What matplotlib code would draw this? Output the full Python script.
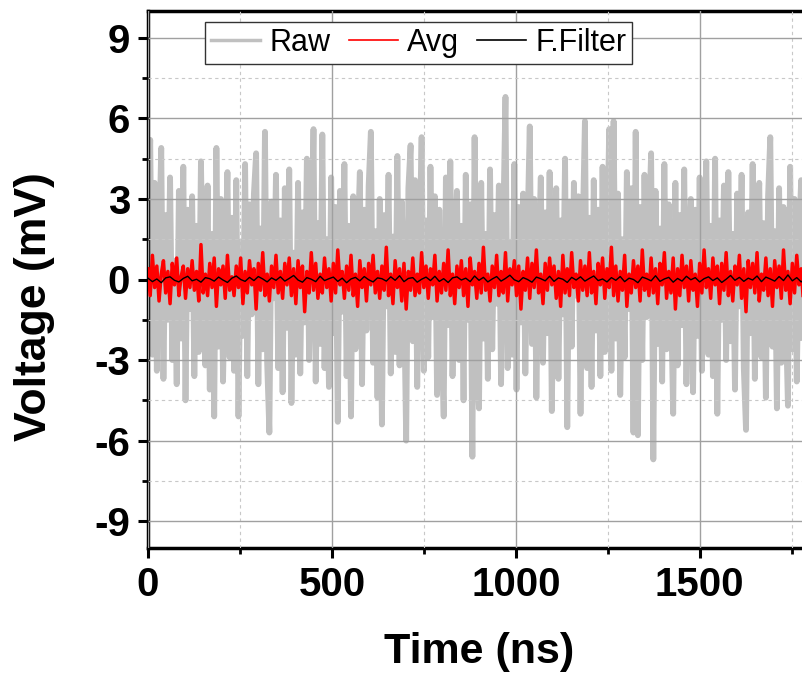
import numpy as np
import matplotlib
matplotlib.use("Agg")
import matplotlib.pyplot as plt
from matplotlib.ticker import MultipleLocator

# Sampling steps (ns)
raw_dt = 6
avg_dt = 6
filt_dt = 12

# Raw trace (mV)
raw_mv = [
    1.9, 5.2, -2.8, 3.6, -3.4, 1.2, 4.9, -3.7, 2.4, -1.5, 3.8, -3.0, 0.7, -3.9, 3.3, -2.2, 4.2, -4.5, 2.6, -1.1,
    3.1, -3.6, 2.0, -2.7, 4.4, -0.9, -3.2, 3.5, -4.1, 1.7, -5.1, 4.9, -2.5, 3.0, -3.8, 0.6, 4.0, -2.9, 2.3, -3.4,
    3.7, -5.1, 1.4, -2.1, 4.3, -3.6, 2.8, -1.3, 3.2, 4.7, -3.9, 1.9, -2.6, 5.5, -3.1, -5.7, 2.9, -0.7, 3.9, -3.3,
    2.2, -4.2, 3.4, -1.8, 4.1, -4.6, 1.0, -2.8, 3.6, -3.5, 2.5, -1.6, 4.5, -3.0, 0.8, 5.6, -3.8, 2.1, -2.4, 5.4,
    -3.3, 1.5, -4.0, 3.8, -2.0, 2.7, -5.3, 3.3, -1.2, 4.3, -3.6, 2.0, -5.1, 3.1, -2.6, 1.3, 4.0, -3.9, 2.6, -1.9,
    3.5, 5.5, -3.1, 1.8, -4.4, 3.0, -5.4, 2.4, -1.0, 3.9, -3.5, 1.6, -2.7, 4.6, -3.2, 2.9, -0.5, -6.0, 3.4, 5.0,
    -2.3, 3.7, -4.0, 1.2, 5.3, -3.4, 2.2, -2.9, 4.2, -1.4, 3.1, -4.3, 2.6, -2.0, -5.1, 3.8, -1.7, 4.4, -3.6, 1.1,
    3.3, -3.0, 2.0, -4.5, 3.9, -1.5, 2.8, -6.6, 5.3, -3.2, -4.8, 3.6, -2.2, 1.7, -3.7, 4.1, -2.6, 2.4, -0.9, 3.5,
    -3.9, 2.1, 6.8, -3.3, 1.4, -2.8, 4.3, -4.1, 2.7, -1.6, 3.2, -3.5, 1.9, 5.7, -2.4, 3.0, -4.4, 0.8, 3.8, -3.1,
    2.5, -2.0, 4.0, -4.9, 1.6, 3.4, -3.7, 2.2, -1.3, 4.5, -5.5, 2.9, -2.5, 3.6, -0.6, 3.1, -5.0, 1.8, 5.9, -3.3,
    2.3, -4.0, 3.7, -1.9, 2.6, -3.6, 4.2, -2.7, 1.0, 5.6, -3.4, 5.9, -2.2, 3.2, -4.3, 1.5, -2.9, 4.0, -1.1, 3.4,
    -5.7, 5.5, -5.8, 2.7, -3.0, 3.9, -1.4, 2.1, 4.7, -6.7, 3.3, -2.4, 1.9, -3.8, 4.3, -2.6, 2.8, -0.8, -5.0, 3.6,
    -3.2, 2.4, -1.7, 4.1, -3.9, 1.3, 3.0, -4.2, 2.6, -2.1, 3.8, -3.4, 0.9, 4.4, -2.8, 2.0, -3.6, 4.5, -5.0, 2.2,
    -1.5, 3.5, -3.0, 4.0, -2.3, 1.7, -4.1, 3.2, -1.0, 3.9, -3.3, -5.6, 2.5, -2.0, 4.3, -3.7, 1.4, 3.6, -2.9, 2.1,
    -4.4, 3.1, 5.3, -2.5, 1.8, -4.8, 3.4, -3.1, 2.7, -1.2, -4.7, 4.2, -2.6, 3.0, -3.8, 1.6, 3.7, -3.4, 2.3, -2.0,
]

# Averaged trace (mV)
avg_mv = [
    0.4, -0.6, 0.9, -0.3, 0.5, -0.8, 0.2, 0.7, -0.5, 0.3, -0.9, 0.6, -0.2, 0.8, -0.6, 0.1, 0.5, -0.7, 0.4, -0.3,
    0.7, -0.4, 0.3, -0.8, 1.3, -0.5, 0.2, -0.6, 0.6, -0.3, 0.8, -1.0, 0.4, -0.2, 0.5, -0.7, 0.9, -0.4, 0.1, -0.6,
    0.5, -0.3, 0.8, -0.9, 0.3, -0.5, 0.7, -0.2, 0.4, -1.1, 0.6, -0.4, 1.0, -0.6, 0.2, -0.8, 0.5, -0.3, 0.9, -0.5,
    0.3, -0.7, 0.6, -0.2, 0.8, -0.6, 0.4, -0.9, 0.7, -0.3, 0.5, -1.2, 0.3, -0.5, 1.0, -0.4, 0.6, -0.7, 0.2, -0.5,
    0.8, -0.3, 0.4, -0.8, 0.6, -0.5, 1.1, -0.2, 0.3, -0.7, 0.5, -0.4, 0.9, -0.6, 0.2, -1.0, 0.7, -0.3, 0.4, -0.8,
    0.6, -0.2, 0.9, -0.5, 0.3, -0.7, 0.5, -0.4, 1.2, -0.6, 0.2, -0.9, 0.7, -0.3, 0.4, -0.8, 0.6, -1.1, 0.3, -0.4,
    0.8, -0.6, 0.2, -0.5, 1.0, -0.3, 0.5, -0.7, 0.4, -0.2, 0.9, -0.8, 0.3, -0.5, 0.6, -0.4, 1.1, -0.6, 0.2, -0.9,
    0.5, -0.3, 0.7, -0.6, 0.4, -1.0, 0.8, -0.2, 0.3, -0.7, 0.6, -0.5, 1.2, -0.4, 0.2, -0.8, 0.5, -0.3, 0.9, -0.6,
    0.3, -0.5, 1.0, -0.8, 0.4, -0.2, 0.7, -0.6, 0.5, -1.1, 0.3, -0.4, 0.8, -0.7, 0.6, -0.3, 1.1, -0.5, 0.2, -0.9,
    0.6, -0.4, 0.8, -0.2, 0.5, -0.7, 0.3, -1.0, 0.9, -0.5, 0.4, -0.6, 1.0, -0.3, 0.2, -0.8, 0.7, -0.4, 0.5, -0.6,
    1.0, -0.5, 0.3, -0.9, 0.6, -0.2, 0.8, -0.7, 0.4, -0.3, 1.2, -0.6, 0.5, -0.8, 0.3, -0.4, 0.9, -1.0, 0.2, -0.5,
    0.7, -0.3, 0.5, -0.8, 1.1, -0.4, 0.2, -0.6, 0.8, -0.5, 0.4, -0.9, 0.6, -0.2, 1.0, -0.7, 0.3, -0.5, 0.8, -1.1,
    0.4, -0.6, 0.9, -0.3, 0.5, -0.8, 0.7, -0.4, 0.2, -1.0, 0.6, -0.5, 1.1, -0.3, 0.4, -0.7, 0.8, -0.2, 0.5, -0.9,
    0.6, -0.4, 1.0, -0.6, 0.3, -0.8, 0.5, -0.2, 0.9, -0.7, 0.4, -1.2, 0.7, -0.3, 0.6, -0.5, 1.0, -0.8, 0.2, -0.4,
    0.8, -0.6, 0.4, -1.0, 0.7, -0.3, 0.5, -0.7, 1.1, -0.4, 0.3, -0.9, 0.6, -0.5, 0.9, -0.2, 0.4, -0.8, 0.7, -0.5,
]

# Fourier filtered trace (mV)
filt_mv = [
    0.05, -0.08, 0.02, -0.12, 0.06, 0.10, -0.03, -0.09, 0.04, 0.12, -0.05, 0.01, -0.10, 0.07, 0.03,
    -0.06, 0.09, -0.02, -0.11, 0.05, 0.13, 0.00, -0.07, 0.08, -0.04, 0.11, 0.02, -0.09, 0.06, -0.03,
    0.10, -0.06, 0.04, 0.15, -0.02, -0.10, 0.07, 0.01, -0.08, 0.12, -0.04, 0.03, 0.09, -0.07, 0.05,
    -0.12, 0.02, 0.08, -0.05, 0.11, -0.01, -0.09, 0.06, 0.03, -0.06, 0.10, -0.03, 0.14, -0.08, 0.04,
    0.07, -0.10, 0.01, 0.09, -0.04, 0.12, -0.07, 0.03, -0.11, 0.06, 0.10, -0.02, 0.05, -0.08, 0.13,
    -0.03, 0.08, -0.09, 0.02, 0.11, -0.06, 0.04, 0.16, -0.01, -0.08, 0.07, 0.00, -0.10, 0.09, 0.03,
    -0.05, 0.12, -0.07, 0.06, 0.01, -0.11, 0.08, -0.02, 0.10, -0.06, 0.04, 0.13, -0.04, 0.02, -0.09,
    0.07, -0.03, 0.11, -0.08, 0.05, 0.00, -0.12, 0.09, 0.03, -0.05, 0.14, -0.07, 0.02, 0.08, -0.10,
    0.04, -0.06, 0.12, -0.01, 0.07, -0.09, 0.03, 0.10, -0.04, 0.06, -0.11, 0.01, 0.15, -0.03, 0.08,
    -0.07, 0.05, -0.02, 0.13, -0.08, 0.09, 0.02, -0.06, 0.11, -0.04, 0.17, -0.05, 0.07, -0.09, 0.04,
]

legend_labels = ["Raw", "Avg", "F.Filter"]
x_ticks = [0, 500, 1000, 1500]
y_ticks = [-9, -6, -3, 0, 3, 6, 9]

raw_t = np.arange(len(raw_mv)) * raw_dt
avg_t = np.arange(len(avg_mv)) * avg_dt
filt_t = np.arange(len(filt_mv)) * filt_dt

plt.rcParams['font.family'] = ['Liberation Sans', 'DejaVu Sans']
plt.rcParams['axes.unicode_minus'] = False  # plain hyphen like the original

fig = plt.figure(figsize=(8.02, 6.79), dpi=100)
# axes runs slightly past the right edge of the figure, like the original
ax = fig.add_axes([148 / 802, 131 / 679, 662 / 802, 537 / 679])

# thick lines so the dense noise looks like a filled band
ax.plot(raw_t, raw_mv, color='#c0c0c0', lw=4.2, zorder=1, label=legend_labels[0])
ax.plot(avg_t, avg_mv, color='#ff0000', lw=2.5, zorder=3, label=legend_labels[1])
ax.plot(filt_t, filt_mv, color='black', lw=1.0, zorder=4, label=legend_labels[2])

ax.set_xlim(0, 1800)
ax.set_ylim(-10, 10)
ax.set_xticks(x_ticks)
ax.set_yticks(y_ticks)
ax.xaxis.set_minor_locator(MultipleLocator(250))
ax.yaxis.set_minor_locator(MultipleLocator(1.5))

# grid on top of the raw trace
ax.set_axisbelow(False)
ax.grid(which='major', color='#a0a0a0', lw=1.0, ls='-')
ax.grid(which='minor', color='#c8c8c8', lw=0.8, ls=(0, (3, 3)))
for gl in ax.get_xgridlines() + ax.get_ygridlines():
    gl.set_zorder(2)

ax.tick_params(which='major', direction='out', length=7, width=2.2, pad=6,
               labelsize=29, top=False, right=False)
ax.tick_params(which='minor', direction='out', length=4.5, width=2.0,
               top=False, right=False)
for lab in ax.get_xticklabels() + ax.get_yticklabels():
    lab.set_fontweight('bold')

for s in ax.spines.values():
    s.set_linewidth(2.5)

ax.set_xlabel('Time (ns)', fontsize=31, fontweight='bold')
ax.set_ylabel('Voltage (mV)', fontsize=32, fontweight='bold')
ax.xaxis.set_label_coords(0.5, -0.156)
ax.yaxis.set_label_coords(-0.14, 0.449)

leg = ax.legend(loc='upper center', bbox_to_anchor=(0.409, 0.98), ncol=3,
                fancybox=False, framealpha=1, edgecolor='#333333',
                handlelength=1.6, handletextpad=0.3, columnspacing=0.6,
                borderpad=0.2, borderaxespad=0, fontsize=22)
leg.get_frame().set_linewidth(1.0)
leg.set_zorder(10)
for h in leg.get_lines():
    h.set_linewidth(1.2)
leg.get_lines()[0].set_linewidth(2.5)

fig.savefig('out.png', dpi=100)
